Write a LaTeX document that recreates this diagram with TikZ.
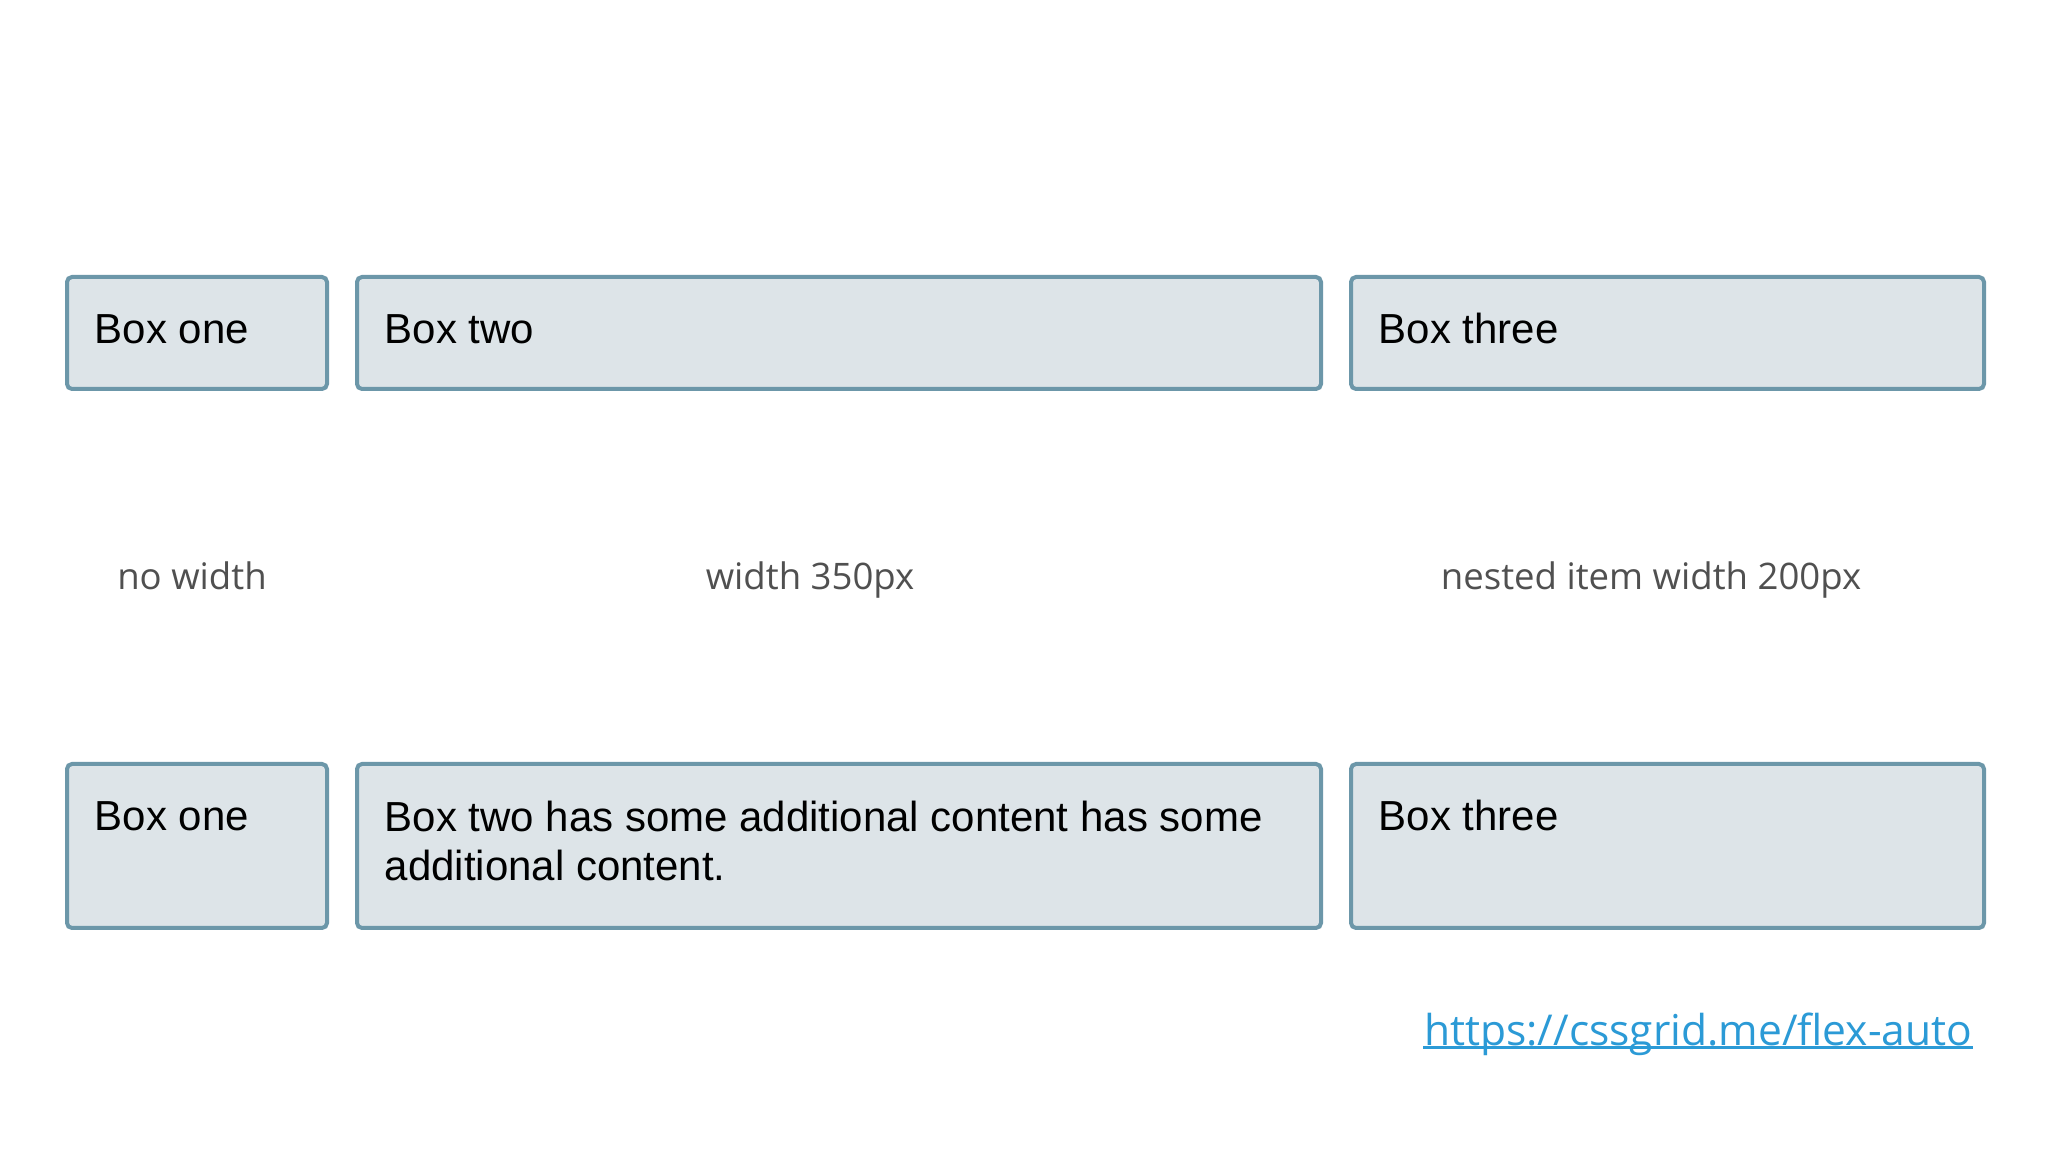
\documentclass[tikz,border=0pt]{standalone}
\usepackage{fontspec}
\setmainfont{Open Sans}
\newfontfamily\boxfont{Liberation Sans}
\definecolor{boxfill}{HTML}{DDE4E8}
\definecolor{boxline}{HTML}{6C97A9}
\definecolor{captiongray}{HTML}{505050}
\definecolor{linkblue}{HTML}{2B9AD6}
\tikzset{
  flexbox/.style={draw=boxline,fill=boxfill,line width=0.4mm,rounded corners=0.5mm,
    anchor=north west,inner sep=0pt},
  boxtext/.style={anchor=base west,inner sep=0pt,align=left,
    font=\boxfont\fontsize{11.95}{14.2}\selectfont},
  caption/.style={text=captiongray,inner sep=0pt,anchor=base,font=\fontsize{10.4}{12}\selectfont},
  link/.style={text=linkblue,inner sep=0pt,anchor=base east,font=\fontsize{12.1}{14}\selectfont}
}
\begin{document}
\begin{tikzpicture}[x=0.1mm,y=-0.1mm]
    \useasboundingbox[fill=white] (0,0) rectangle (2048,1152);
    % top row
    \node[flexbox,minimum width=26mm,minimum height=11.2mm] (onea) at (65,275) {};
    \node[flexbox,minimum width=96.4mm,minimum height=11.2mm] (twoa) at (355,275) {};
    \node[flexbox,minimum width=63.3mm,minimum height=11.2mm] (threea) at (1349,275) {};
    \node[boxtext] at ([shift={(29,69)}]onea.north west) {Box one};
    \node[boxtext] at ([shift={(29,69)}]twoa.north west) {Box two};
    \node[boxtext] at ([shift={(29,69)}]threea.north west) {Box three};
    % captions
    \node[caption] (nowidth) at (192,590) {no width};
    \node[caption] (fixedwidth) at (810,590) {width 350px};
    \node[caption] (nestedwidth) at (1651,590) {nested item width 200px};
    % bottom row
    \node[flexbox,minimum width=26mm,minimum height=16.4mm] (oneb) at (65,762) {};
    \node[flexbox,minimum width=96.4mm,minimum height=16.4mm] (twob) at (355,762) {};
    \node[flexbox,minimum width=63.3mm,minimum height=16.4mm] (threeb) at (1349,762) {};
    \node[boxtext] at ([shift={(29,69)}]oneb.north west) {Box one};
    \node[boxtext] at ([shift={(29,119)}]twob.north west) {Box two has some additional content has some\\additional content.};
    \node[boxtext] at ([shift={(29,69)}]threeb.north west) {Box three};
    % link
    \node[link] (url) at (1973,1045) {https://cssgrid.me/flex-auto};
    \draw[linkblue,line width=0.25mm] ([yshift=-0.25mm]url.base west) -- ([yshift=-0.25mm]url.base east);
\end{tikzpicture}
\end{document}
